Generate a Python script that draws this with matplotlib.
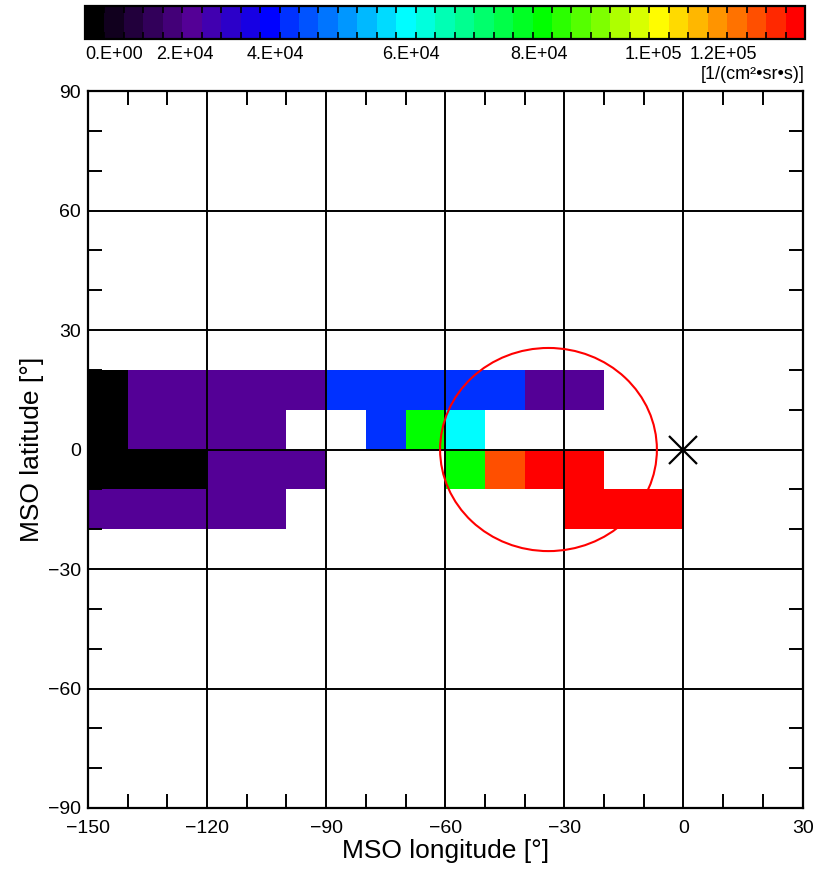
import numpy as np
import matplotlib
matplotlib.use('Agg')
import matplotlib.pyplot as plt
from matplotlib.colors import ListedColormap, LinearSegmentedColormap, FuncNorm
from matplotlib.patches import Ellipse
from matplotlib.ticker import MultipleLocator

plt.rcParams['font.family'] = ['Liberation Sans', 'DejaVu Sans']

# grid cells, 10 deg bins
lon_edges = np.arange(-150, 1, 10)
lat_edges = np.arange(-20, 21, 10)

# flux per bin [1/(cm2 sr s)], rows = latitude bands from -20 up to +20
nan = np.nan
K, P, B, C, G, O, R = 0.0, 2.8e4, 4.6e4, 6.4e4, 8.6e4, 1.37e5, 1.48e5
row_m20 = [P, P, P, P, P, nan, nan, nan, nan, nan, nan, nan, R, R, R]
row_m10 = [K, K, K, P, P, P, nan, nan, nan, G, O, R, R, nan, nan]
row_0 = [K, P, P, P, P, nan, nan, B, G, C, nan, nan, nan, nan, nan]
row_10 = [K, P, P, P, P, P, B, B, B, B, B, P, P, nan, nan]
flux = np.array([row_m20, row_m10, row_0, row_10])

# axis ticks
x_ticks = [-150, -120, -90, -60, -30, 0, 30]
y_ticks = [-90, -60, -30, 0, 30, 60, 90]

# colour bar labels (values and where the plot put them along the bar)
cb_vals = [0, 2e4, 4e4, 6e4, 8e4, 1e5, 1.2e5, 1.5e5]
cb_pos = [0, 0.099, 0.225, 0.413, 0.590, 0.750, 0.840, 1.0]
cb_labels = ['0.E+00', '2.E+04', '4.E+04', '6.E+04', '8.E+04', '1.E+05', '1.2E+05']

# footprint circle and subsolar point
circ_lon, circ_lat = -34, 0
circ_w, circ_h = 54.6, 51.0

# rainbow + black colour table, 37 steps
anchors = [(0.0, (0, 0, 0)),
           (5/36, (0x55/255, 0, 0x98/255)),
           (9/36, (0, 0, 1)),
           (10/36, (0, 0x30/255, 1)),
           (16/36, (0, 1, 1)),
           (23/36, (0, 1, 0)),
           (29/36, (1, 1, 0)),
           (34/36, (1, 0x50/255, 0)),
           (1.0, (1, 0, 0))]
smooth = LinearSegmentedColormap.from_list('rb', anchors)
cmap = ListedColormap(smooth(np.linspace(0, 1, 37)))
cmap.set_over('red')
cmap.set_bad('white')

norm = FuncNorm((lambda v: np.interp(v, cb_vals, cb_pos),
                 lambda p: np.interp(p, cb_pos, cb_vals)),
                vmin=cb_vals[0], vmax=cb_vals[-1])

fig = plt.figure(figsize=(8.14, 8.69), dpi=100)
ax = fig.add_axes([0.108, 0.0702, 0.878, 0.825])
cax = fig.add_axes([0.1044, 0.955, 0.8845, 0.038])

mesh = ax.pcolormesh(lon_edges, lat_edges, np.ma.masked_invalid(flux),
                     cmap=cmap, norm=norm, zorder=1)

ax.set_xlim(-150, 30)
ax.set_ylim(-90, 90)
ax.set_xticks(x_ticks)
ax.set_yticks(y_ticks)
ax.xaxis.set_minor_locator(MultipleLocator(10))
ax.yaxis.set_minor_locator(MultipleLocator(10))
ax.set_xticklabels([str(v).replace('-', '\u2212') for v in x_ticks])
ax.set_yticklabels([str(v).replace('-', '\u2212') for v in y_ticks])
ax.grid(True, which='major', color='black', lw=1.4, zorder=2)
ax.set_axisbelow(False)
ax.tick_params(which='both', direction='in', top=True, right=True,
               labelsize=14, width=1.4)
ax.tick_params(axis='x', which='major', length=0, pad=9)
ax.tick_params(axis='y', which='major', length=0, pad=5)
ax.tick_params(which='minor', length=10)
for s in ax.spines.values():
    s.set_linewidth(1.6)
ax.set_xlabel('MSO longitude [°]', fontsize=19, labelpad=1)
ax.set_ylabel('MSO latitude [°]', fontsize=19, labelpad=3)

ax.add_patch(Ellipse((circ_lon, circ_lat), circ_w, circ_h, fill=False,
                     edgecolor='red', lw=1.5, zorder=4))
ax.plot([0], [0], marker='x', color='black', markersize=20, mew=1.6,
        linestyle='none', zorder=5, clip_on=False)

cb = fig.colorbar(mesh, cax=cax, orientation='horizontal', extend='neither')
cb.outline.set_linewidth(1.6)
cb.set_ticks(cb_vals[:-1])
cb.set_ticklabels(cb_labels)
minor = norm.inverse(np.linspace(0, 1, 38)[1:-1])
cax.set_xticks(minor, minor=True)
cax.tick_params(which='both', direction='in', top=True, bottom=True)
cax.tick_params(which='major', length=0, labelsize=13, pad=5)
cax.tick_params(which='minor', length=5, width=1.2)
for lab in cax.get_xticklabels():
    lab.set_horizontalalignment('left')
cax.text(1.0, -0.8, '[1/(cm²•sr•s)]', transform=cax.transAxes,
         ha='right', va='top', fontsize=13)

fig.savefig('out.png', dpi=100)
